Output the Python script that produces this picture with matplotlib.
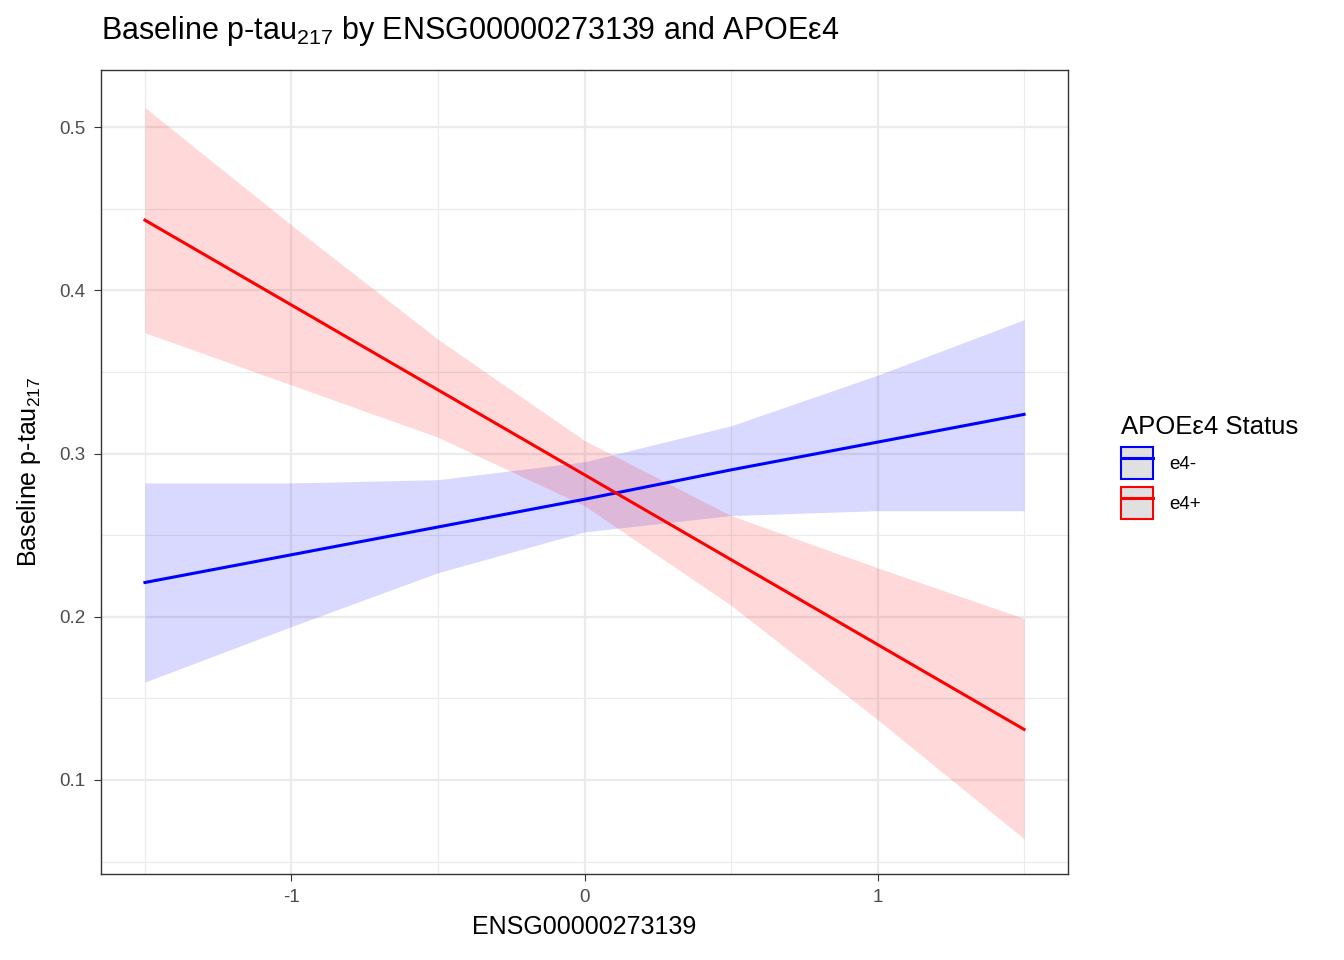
import numpy as np
import matplotlib.pyplot as plt
from matplotlib.patches import Patch
from matplotlib.lines import Line2D

plt.rcParams['font.family'] = ['Liberation Sans', 'DejaVu Sans']
plt.rcParams['mathtext.fontset'] = 'custom'
plt.rcParams['mathtext.rm'] = 'Liberation Sans'
plt.rcParams['mathtext.it'] = 'Liberation Sans'
plt.rcParams['mathtext.default'] = 'regular'
plt.rcParams['axes.unicode_minus'] = False

x = [-1.5, -1.0, -0.5, 0.0, 0.5, 1.0, 1.5]
neg_fit = [0.221, 0.238, 0.255, 0.272, 0.290, 0.307, 0.324]
neg_lo = [0.160, 0.194, 0.227, 0.252, 0.262, 0.265, 0.265]
neg_hi = [0.282, 0.282, 0.284, 0.295, 0.317, 0.348, 0.382]
pos_fit = [0.443, 0.391, 0.339, 0.287, 0.235, 0.183, 0.131]
pos_lo = [0.374, 0.342, 0.310, 0.268, 0.207, 0.137, 0.064]
pos_hi = [0.512, 0.440, 0.370, 0.308, 0.262, 0.230, 0.199]

fig = plt.figure(figsize=(13.44, 9.6), dpi=100)
ax = fig.add_axes([101 / 1344, 1 - 874 / 960, (1068 - 101) / 1344, (874 - 70) / 960])

ax.fill_between(x, neg_lo, neg_hi, color='blue', alpha=0.15, linewidth=0)
ax.fill_between(x, pos_lo, pos_hi, color='red', alpha=0.15, linewidth=0)
ax.plot(x, neg_fit, color='blue', lw=2.2, label='e4-')
ax.plot(x, pos_fit, color='red', lw=2.2, label='e4+')

ax.set_xlim(-1.65, 1.65)
ax.set_ylim(0.0424, 0.535)
ax.set_xticks([-1, 0, 1])
ax.set_xticks([-1.5, -0.5, 0.5, 1.5], minor=True)
ax.set_yticks([0.1, 0.2, 0.3, 0.4, 0.5])
ax.set_yticks([0.05, 0.15, 0.25, 0.35, 0.45], minor=True)
ax.grid(which='major', color='#ebebeb', lw=1.6)
ax.grid(which='minor', color='#ebebeb', lw=0.8)
ax.set_axisbelow(True)
for s in ax.spines.values():
    s.set_color('#333333')
    s.set_linewidth(1)
ax.tick_params(which='major', colors='#333333', labelcolor='#4d4d4d', labelsize=13.5, length=5, pad=6)
ax.tick_params(which='minor', length=0)

ax.set_xlabel('ENSG00000273139', fontsize=18, labelpad=6)
ax.set_ylabel('Baseline p-tau$_{217}$', fontsize=18, labelpad=12)
ax.set_title('Baseline p-tau$_{217}$ by ENSG00000273139 and APOEε4', fontsize=22, loc='left', pad=22)

handles = [
    (Patch(facecolor='#e0e0e0', edgecolor='blue', lw=1.5), Line2D([], [], color='blue', lw=2.2)),
    (Patch(facecolor='#e0e0e0', edgecolor='red', lw=1.5), Line2D([], [], color='red', lw=2.2)),
]
leg = fig.legend(handles, ['e4-', 'e4+'], title='APOEε4 Status', loc='upper left',
                 bbox_to_anchor=(1104 / 1344, 1 - 398 / 960), frameon=False,
                 fontsize=13.5, title_fontsize=18.5, handlelength=1.7, handleheight=2.2,
                 labelspacing=0.45, handletextpad=0.9)
leg._legend_box.align = 'left'

fig.savefig('out.png', dpi=100)
